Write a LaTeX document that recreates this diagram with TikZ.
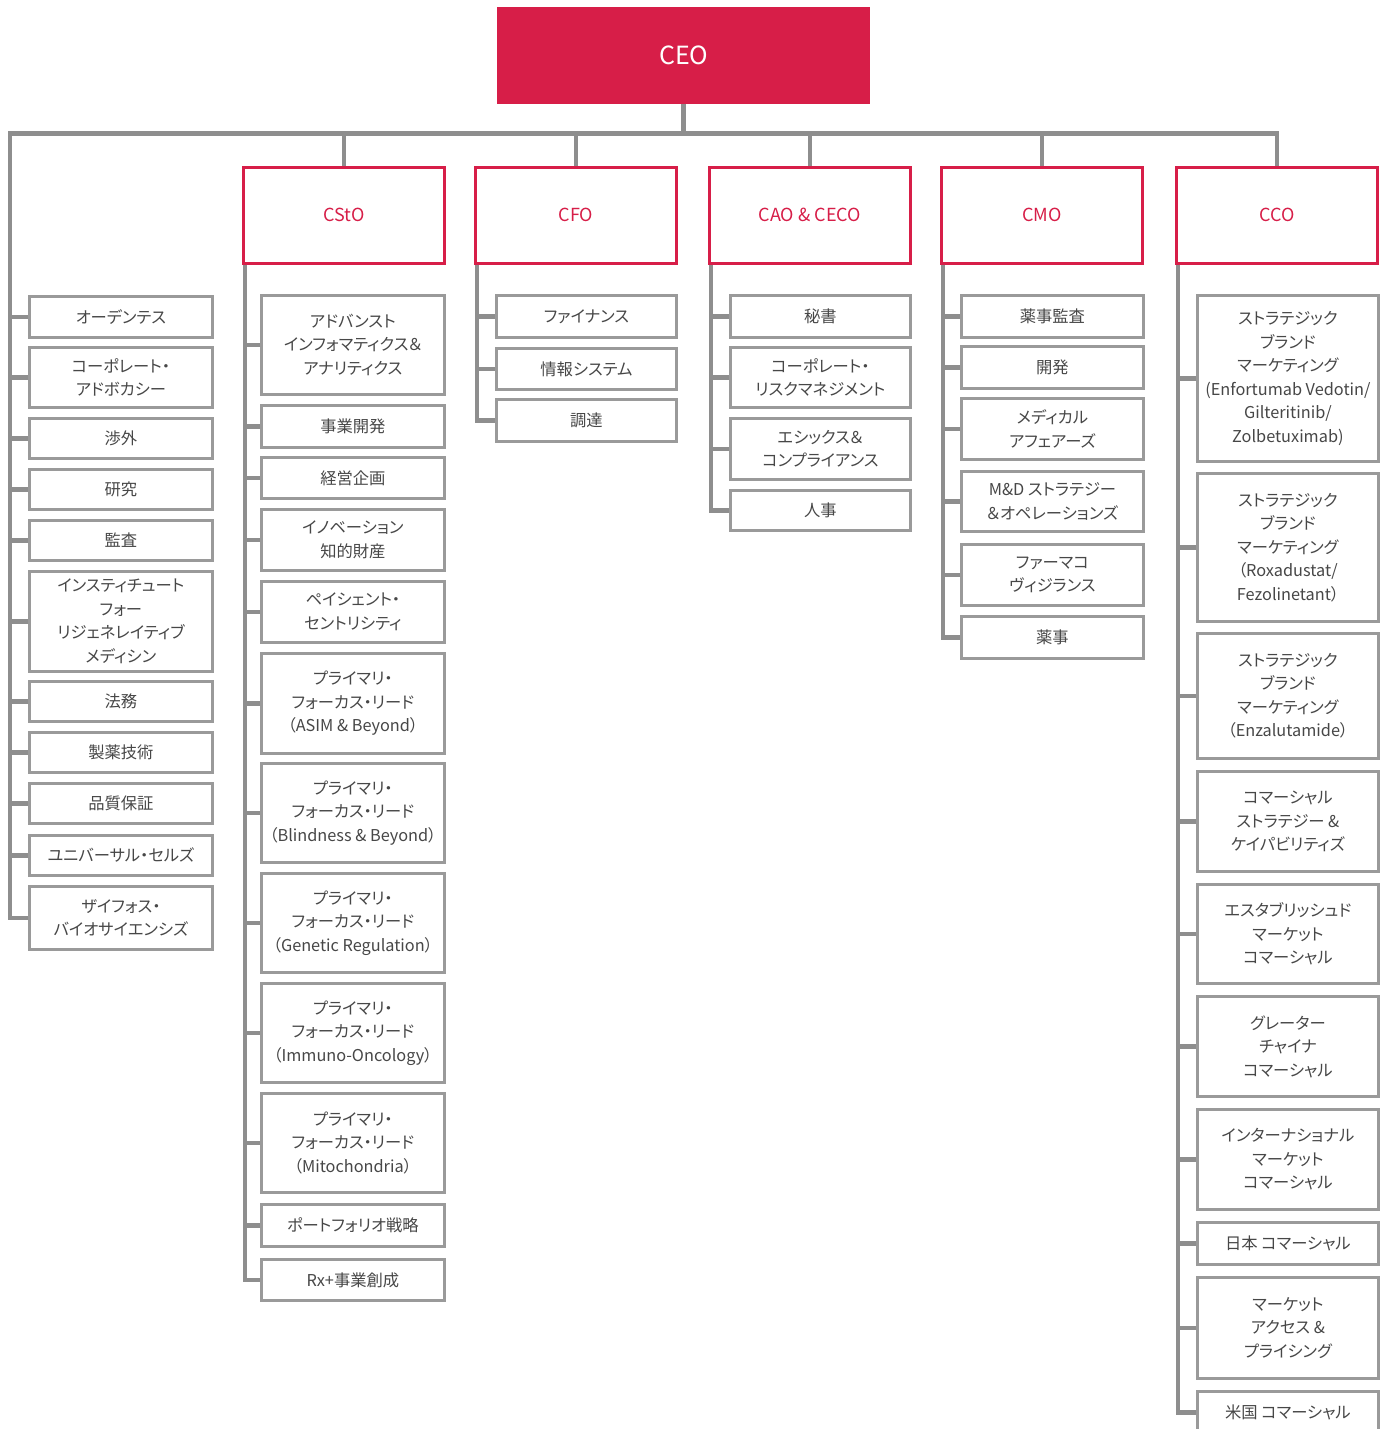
\documentclass[tikz,border=0pt]{standalone}
\usepackage{fontspec}
\setmainfont{Noto Sans CJK JP}[RawFeature=+palt]
\definecolor{axred}{HTML}{D71E48}
\definecolor{conngray}{HTML}{8E8E8E}
\definecolor{boxgray}{HTML}{9A9A9A}
\definecolor{txtgray}{HTML}{474747}
\tikzset{
  conn/.style={draw=conngray, line width=4.5pt, line join=miter, line cap=butt},
  subbox/.style={draw=boxgray, line width=2.8pt, fill=white, inner sep=0pt, align=center,
    text=txtgray, font=\fontsize{16.3}{23.5}\selectfont},
  execbox/.style={draw=axred, line width=2.6pt, fill=white, inner sep=0pt, align=center,
    text=axred, font=\fontsize{18}{22}\selectfont, minimum width=201pt, minimum height=96pt, anchor=north west},
  ceobox/.style={fill=axred, draw=none, inner sep=0pt, text=white,
    font=\fontsize{25}{30}\selectfont, minimum width=373pt, minimum height=97pt, anchor=north west}
}
\newcommand\orgsub[6]{\node[subbox, minimum width=#3pt, minimum height={(#5-#4)*1pt}, anchor=north west] (#1) at (#2,#4) {#6};}
\begin{document}
\begin{tikzpicture}[x=1pt,y=-1pt]
\useasboundingbox[fill=white] (0,0) rectangle (1385,1429);
% top
\node[ceobox] (ceo) at (497,7) {CEO};
\node[execbox] (csto) at (242,166) {CStO};
\node[execbox] (cfo) at (474,166) {CFO};
\node[execbox] (cao) at (708,166) {CAO \& CECO};
\node[execbox] (cmo) at (940,166) {CMO};
\node[execbox] (cco) at (1175,166) {CCO};
% left column
\orgsub{L1}{28}{183}{295}{336}{オーデンテス}
\orgsub{L2}{28}{183}{346}{406}{コーポレート・\\アドボカシー}
\orgsub{L3}{28}{183}{417}{457}{渉外}
\orgsub{L4}{28}{183}{468}{508}{研究}
\orgsub{L5}{28}{183}{519}{559}{監査}
\orgsub{L6}{28}{183}{570}{670}{\fontsize{16.3}{22.5}\selectfont インスティチュート\\フォー\\リジェネレイティブ\\メディシン}
\orgsub{L7}{28}{183}{680}{720}{法務}
\orgsub{L8}{28}{183}{731}{771}{製薬技術}
\orgsub{L9}{28}{183}{782}{822}{品質保証}
\orgsub{L10}{28}{183}{834}{874}{ユニバーサル・セルズ}
\orgsub{L11}{28}{183}{885}{948}{ザイフォス・\\バイオサイエンシズ}
% CStO
\orgsub{S1}{260}{183}{294}{393}{アドバンスト\\インフォマティクス＆\\アナリティクス}
\orgsub{S2}{260}{183}{404}{446}{事業開発}
\orgsub{S3}{260}{183}{456}{497}{経営企画}
\orgsub{S4}{260}{183}{508}{569}{イノベーション\\知的財産}
\orgsub{S5}{260}{183}{580}{641}{ペイシェント・\\セントリシティ}
\orgsub{S6}{260}{183}{652}{752}{プライマリ・\\フォーカス・リード\\（ASIM \& Beyond）}
\orgsub{S7}{260}{183}{762}{861}{プライマリ・\\フォーカス・リード\\（Blindness \& Beyond）}
\orgsub{S8}{260}{183}{872}{971}{プライマリ・\\フォーカス・リード\\（Genetic Regulation）}
\orgsub{S9}{260}{183}{982}{1081}{プライマリ・\\フォーカス・リード\\（Immuno-Oncology）}
\orgsub{S10}{260}{183}{1092}{1191}{プライマリ・\\フォーカス・リード\\（Mitochondria）}
\orgsub{S11}{260}{183}{1203}{1245}{ポートフォリオ戦略}
\orgsub{S12}{260}{183}{1258}{1299}{Rx+事業創成}
% CFO
\orgsub{F1}{495}{180}{294}{336}{ファイナンス}
\orgsub{F2}{495}{180}{347}{388}{情報システム}
\orgsub{F3}{495}{180}{398}{440}{調達}
% CAO
\orgsub{A1}{729}{180}{294}{336}{秘書}
\orgsub{A2}{729}{180}{346}{406}{コーポレート・\\リスクマネジメント}
\orgsub{A3}{729}{180}{417}{478}{エシックス＆\\コンプライアンス}
\orgsub{A4}{729}{180}{489}{529}{人事}
% CMO
\orgsub{M1}{960}{182}{294}{336}{薬事監査}
\orgsub{M2}{960}{182}{345}{387}{開発}
\orgsub{M3}{960}{182}{397}{458}{メディカル\\アフェアーズ}
\orgsub{M4}{960}{182}{470}{530}{M\&D ストラテジー\\＆オペレーションズ}
\orgsub{M5}{960}{182}{543}{604}{ファーマコ\\ヴィジランス}
\orgsub{M6}{960}{182}{615}{657}{薬事}
% CCO
\orgsub{C1}{1196}{181}{294}{460}{ストラテジック\\ブランド\\マーケティング\\(Enfortumab Vedotin/\\Gilteritinib/\\Zolbetuximab)}
\orgsub{C2}{1196}{181}{472}{620}{ストラテジック\\ブランド\\マーケティング\\（Roxadustat/\\Fezolinetant）}
\orgsub{C3}{1196}{181}{632}{757}{ストラテジック\\ブランド\\マーケティング\\（Enzalutamide）}
\orgsub{C4}{1196}{181}{770}{870}{コマーシャル\\ストラテジー \&\\ケイパビリティズ}
\orgsub{C5}{1196}{181}{883}{982}{エスタブリッシュド\\マーケット\\コマーシャル}
\orgsub{C6}{1196}{181}{995}{1095}{グレーター\\チャイナ\\コマーシャル}
\orgsub{C7}{1196}{181}{1108}{1208}{インターナショナル\\マーケット\\コマーシャル}
\orgsub{C8}{1196}{181}{1221}{1263}{日本 コマーシャル}
\orgsub{C9}{1196}{181}{1276}{1377}{マーケット\\アクセス \&\\プライシング}
\orgsub{C10}{1196}{181}{1390}{1432}{米国 コマーシャル}
% connectors
\coordinate (barL) at (10,133.5);
\draw[conn] (ceo.south) -- (ceo.south |- barL);
\draw[conn] (L11.west) -| (barL) -- (cco.north |- barL) -- (cco.north);
\foreach \e in {csto,cfo,cao,cmo} \draw[conn] (\e.north) -- (\e.north |- barL);
\foreach \n in {L1,L2,L3,L4,L5,L6,L7,L8,L9,L10} \draw[conn] (\n.west) -- (\n.west -| barL);
% spines
\coordinate (stoS) at ([xshift=3pt]csto.south west);
\coordinate (cfoS) at ([xshift=3pt]cfo.south west);
\coordinate (caoS) at ([xshift=3pt]cao.south west);
\coordinate (cmoS) at ([xshift=3pt]cmo.south west);
\coordinate (ccoS) at ([xshift=3pt]cco.south west);
\draw[conn] (stoS) |- (S12.west);
\foreach \n in {S1,S2,S3,S4,S5,S6,S7,S8,S9,S10,S11} \draw[conn] (\n.west) -- (\n.west -| stoS);
\draw[conn] (cfoS) |- (F3.west);
\foreach \n in {F1,F2} \draw[conn] (\n.west) -- (\n.west -| cfoS);
\draw[conn] (caoS) |- (A4.west);
\foreach \n in {A1,A2,A3} \draw[conn] (\n.west) -- (\n.west -| caoS);
\draw[conn] (cmoS) |- (M6.west);
\foreach \n in {M1,M2,M3,M4,M5} \draw[conn] (\n.west) -- (\n.west -| cmoS);
\draw[conn] (ccoS) |- (C10.west);
\foreach \n in {C1,C2,C3,C4,C5,C6,C7,C8,C9} \draw[conn] (\n.west) -- (\n.west -| ccoS);
\end{tikzpicture}
\end{document}
